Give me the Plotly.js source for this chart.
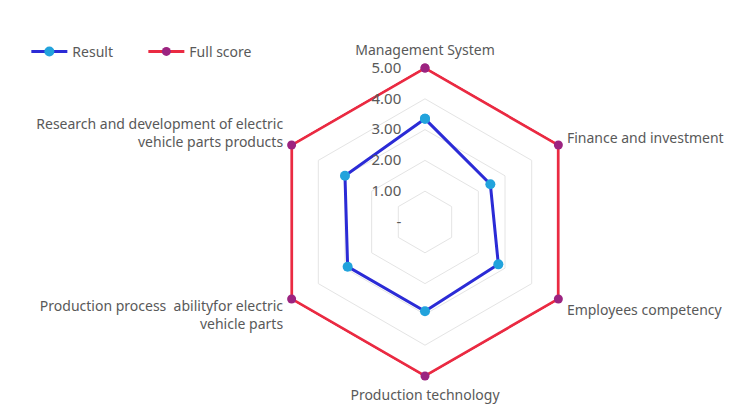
<!DOCTYPE html>
<html><head><meta charset="utf-8">
<script src="https://cdn.plot.ly/plotly-3.0.1.min.js"></script>
<style>html,body{margin:0;padding:0;background:#fff}#chart{width:753px;height:418px}</style>
</head><body><div id="chart"></div>
<script>
const categories = [
  "Management System",
  "Finance and investment",
  "Employees competency",
  "Production technology",
  "Production process  abilityfor electric<br>vehicle parts",
  "Research and development of electric<br>vehicle parts products"
];
const resultValues = [3.35, 2.45, 2.75, 2.9, 2.9, 3.0];
const fullScoreValues = [5, 5, 5, 5, 5, 5];
const radialTickVals = [0, 1, 2, 3, 4, 5];
const radialTickText = ["-", "1.00", "2.00", "3.00", "4.00", "5.00"];

function closed(a){ return a.concat([a[0]]); }

const traces = [
  {
    type: "scatterpolar", name: "Result",
    r: closed(resultValues), theta: closed(categories),
    mode: "lines+markers",
    line: {color: "#2b2bd6", width: 3},
    marker: {color: "#22a3dc", size: 10}
  },
  {
    type: "scatterpolar", name: "Full score",
    r: closed(fullScoreValues), theta: closed(categories),
    mode: "lines+markers",
    line: {color: "#ea2a42", width: 3},
    marker: {color: "#9c2380", size: 9}
  }
];

const layout = {
  width: 753, height: 418,
  margin: {l: 0, r: 0, t: 0, b: 0},
  paper_bgcolor: "#fff",
  font: {family: "Noto Sans, sans-serif", size: 14, color: "#595959"},
  showlegend: true,
  legend: {orientation: "h", x: 0.035, y: 0.876, xanchor: "left", yanchor: "middle",
           itemwidth: 36, entrywidth: 66, bgcolor: "rgba(0,0,0,0)",
           font: {size: 14, color: "#595959"}},
  polar: {
    domain: {x: [0.3578, 0.7710], y: [0.0968, 0.8410]},
    gridshape: "linear",
    bgcolor: "rgba(0,0,0,0)",
    angularaxis: {
      direction: "clockwise", rotation: 90,
      showgrid: false, showline: false,
      ticks: "outside", ticklen: 5, tickcolor: "rgba(0,0,0,0)",
      tickfont: {size: 14, color: "#595959"}
    },
    radialaxis: {
      range: [0, 5.05], angle: 90, side: "counterclockwise",
      tickvals: radialTickVals, ticktext: radialTickText,
      showline: false, ticks: "outside", ticklen: 18, tickcolor: "rgba(0,0,0,0)",
      tickangle: 90,
      gridcolor: "#e4e4e4", gridwidth: 1,
      tickfont: {size: 15, color: "#595959"}
    }
  }
};
Plotly.newPlot("chart", traces, layout, {displayModeBar: false, staticPlot: true});
</script></body></html>
